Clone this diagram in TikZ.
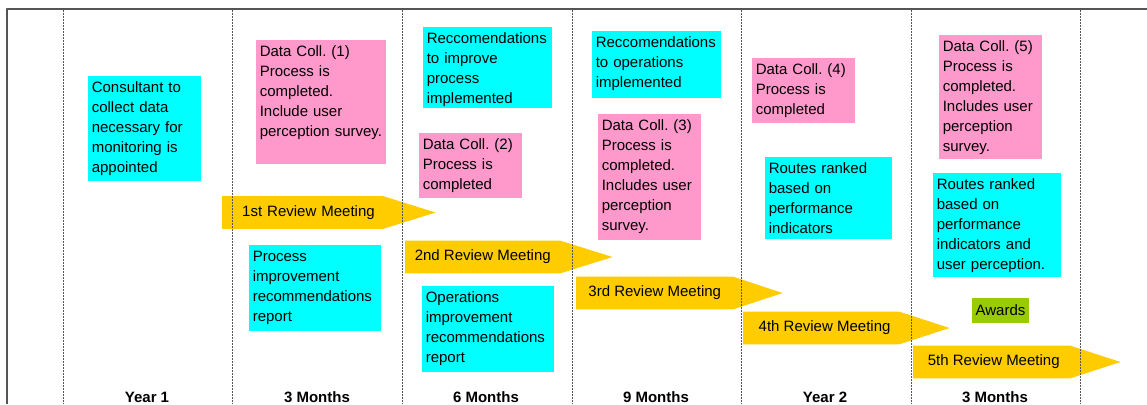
\documentclass[tikz,border=0pt]{standalone}
\usepackage{fontspec}
\setmainfont{Liberation Sans}
\usetikzlibrary{calc,backgrounds}
\definecolor{aqua}{HTML}{00FFFF}
\definecolor{rose}{HTML}{FF99CC}
\definecolor{amber}{HTML}{FFCC00}
\definecolor{lime}{HTML}{99CC00}
\definecolor{frame}{HTML}{555555}
\frenchspacing
\begin{document}
\begin{tikzpicture}[x=0.75pt, y=-0.75pt, font=\fontsize{11.25}{15}\selectfont, line join=round,
	note/.style={anchor=north west, inner xsep=2.625pt, inner ysep=2.25pt, text height=9.75pt, align=left},
	task/.style={note, fill=aqua},
	coll/.style={note, fill=rose},
	meeting/.style={inner sep=0pt, minimum height=24pt, anchor=west},
	grid/.style={frame, line width=0.75pt, dash pattern=on 1.5pt off 0.75pt},
	heading/.style={anchor=base, font=\fontsize{11.25}{15}\selectfont\bfseries}]
	\useasboundingbox (0,0) rectangle (1147,404);
	% boxes, column by column
	\node[task, text width=79.5pt, text depth=64.5pt] (consult) at (88,76) {Consultant to\\collect data\\necessary for\\monitoring is\\appointed};
	\node[coll, text width=92.25pt, text depth=78.75pt] (dc1) at (256,40) {Data Coll. (1)\\Process is\\completed.\\Include user\\perception survey.};
	\node[task, text width=93.75pt, text depth=50.25pt] (procrep) at (249,245) {Process\\improvement\\recommendations\\report};
	\node[task, text width=91.5pt, text depth=46.5pt] (recproc) at (423,27) {Reccomendations\\to improve\\process\\implemented};
	\node[coll, text width=72pt, text depth=34.5pt] (dc2) at (419,133) {Data Coll. (2)\\Process is\\completed};
	\node[task, text width=93.75pt, text depth=50.25pt] (opsrep) at (422,286) {Operations\\improvement\\recommendations\\report};
	\node[task, text width=91.5pt, text depth=36pt] (recops) at (592,31) {Reccomendations\\to operations\\implemented};
	\node[coll, text width=72pt, text depth=80.25pt] (dc3) at (598,114) {Data Coll. (3)\\Process is\\completed.\\Includes user\\perception\\survey.};
	\node[coll, text width=72pt, text depth=34.5pt] (dc4) at (752,58) {Data Coll. (4)\\Process is\\completed};
	\node[task, text width=90pt, text depth=47.25pt] (rank1) at (765,157) {Routes ranked\\based on\\performance\\indicators};
	\node[coll, text width=72pt, text depth=78.75pt] (dc5) at (939,35) {Data Coll. (5)\\Process is\\completed.\\Includes user\\perception\\survey.};
	\node[task, text width=90.75pt, text depth=63.75pt] (rank2) at (933,173) {Routes ranked\\based on\\performance\\indicators and\\user perception.};
	\node[fill=lime, minimum width=42.75pt, minimum height=18.75pt, inner sep=0pt] (awards) at (1000.5,310.5) {Awards};
	% review meetings, arrow bodies go behind the text
	\node[meeting, minimum width=120.75pt, text width=108pt, align=right] (m1) at (222,212.5) {1st Review Meeting};
	\node[meeting, minimum width=116.25pt] (m2) at (405,257) {2nd Review Meeting};
	\node[meeting, minimum width=117.75pt] (m3) at (576,293) {3rd Review Meeting};
	\node[meeting, minimum width=117pt] (m4) at (743,328) {\hspace{5pt}4th Review Meeting};
	\node[meeting, minimum width=117.75pt] (m5) at (913,362) {\hspace{3pt}5th Review Meeting};
	\begin{scope}[on background layer]
		\fill[amber] (m1.north west) -- (m1.north east) -- ($(m1.east)+(52,0)$) -- (m1.south east) -- (m1.south west) -- cycle;
		\fill[amber] (m2.north west) -- (m2.north east) -- ($(m2.east)+(52,0)$) -- (m2.south east) -- (m2.south west) -- cycle;
		\fill[amber] (m3.north west) -- (m3.north east) -- ($(m3.east)+(49,0)$) -- (m3.south east) -- (m3.south west) -- cycle;
		\fill[amber] (m4.north west) -- (m4.north east) -- ($(m4.east)+(50,0)$) -- (m4.south east) -- (m4.south west) -- cycle;
		\fill[amber] (m5.north west) -- (m5.north east) -- ($(m5.east)+(50,0)$) -- (m5.south east) -- (m5.south west) -- cycle;
	\end{scope}
	% frame and column lines
	\draw[frame, line width=1.5pt] (7,404) -- (7,9) -- (1147,9);
	\draw[grid] (63,10) -- (63,404);
	\draw[grid] (232,10) -- (232,404);
	\draw[grid] (402,10) -- (402,404);
	\draw[grid] (572,10) -- (572,404);
	\draw[grid] (741,10) -- (741,404);
	\draw[grid] (911,10) -- (911,404);
	\draw[grid] (1080,10) -- (1080,404);
	% column headings
	\node[heading] (y1) at (147,402) {Year 1};
	\node[heading] (y1m3) at (317,402) {3 Months};
	\node[heading] (y1m6) at (486,402) {6 Months};
	\node[heading] (y1m9) at (656,402) {9 Months};
	\node[heading] (y2) at (825,402) {Year 2};
	\node[heading] (y2m3) at (995,402) {3 Months};
\end{tikzpicture}
\end{document}
